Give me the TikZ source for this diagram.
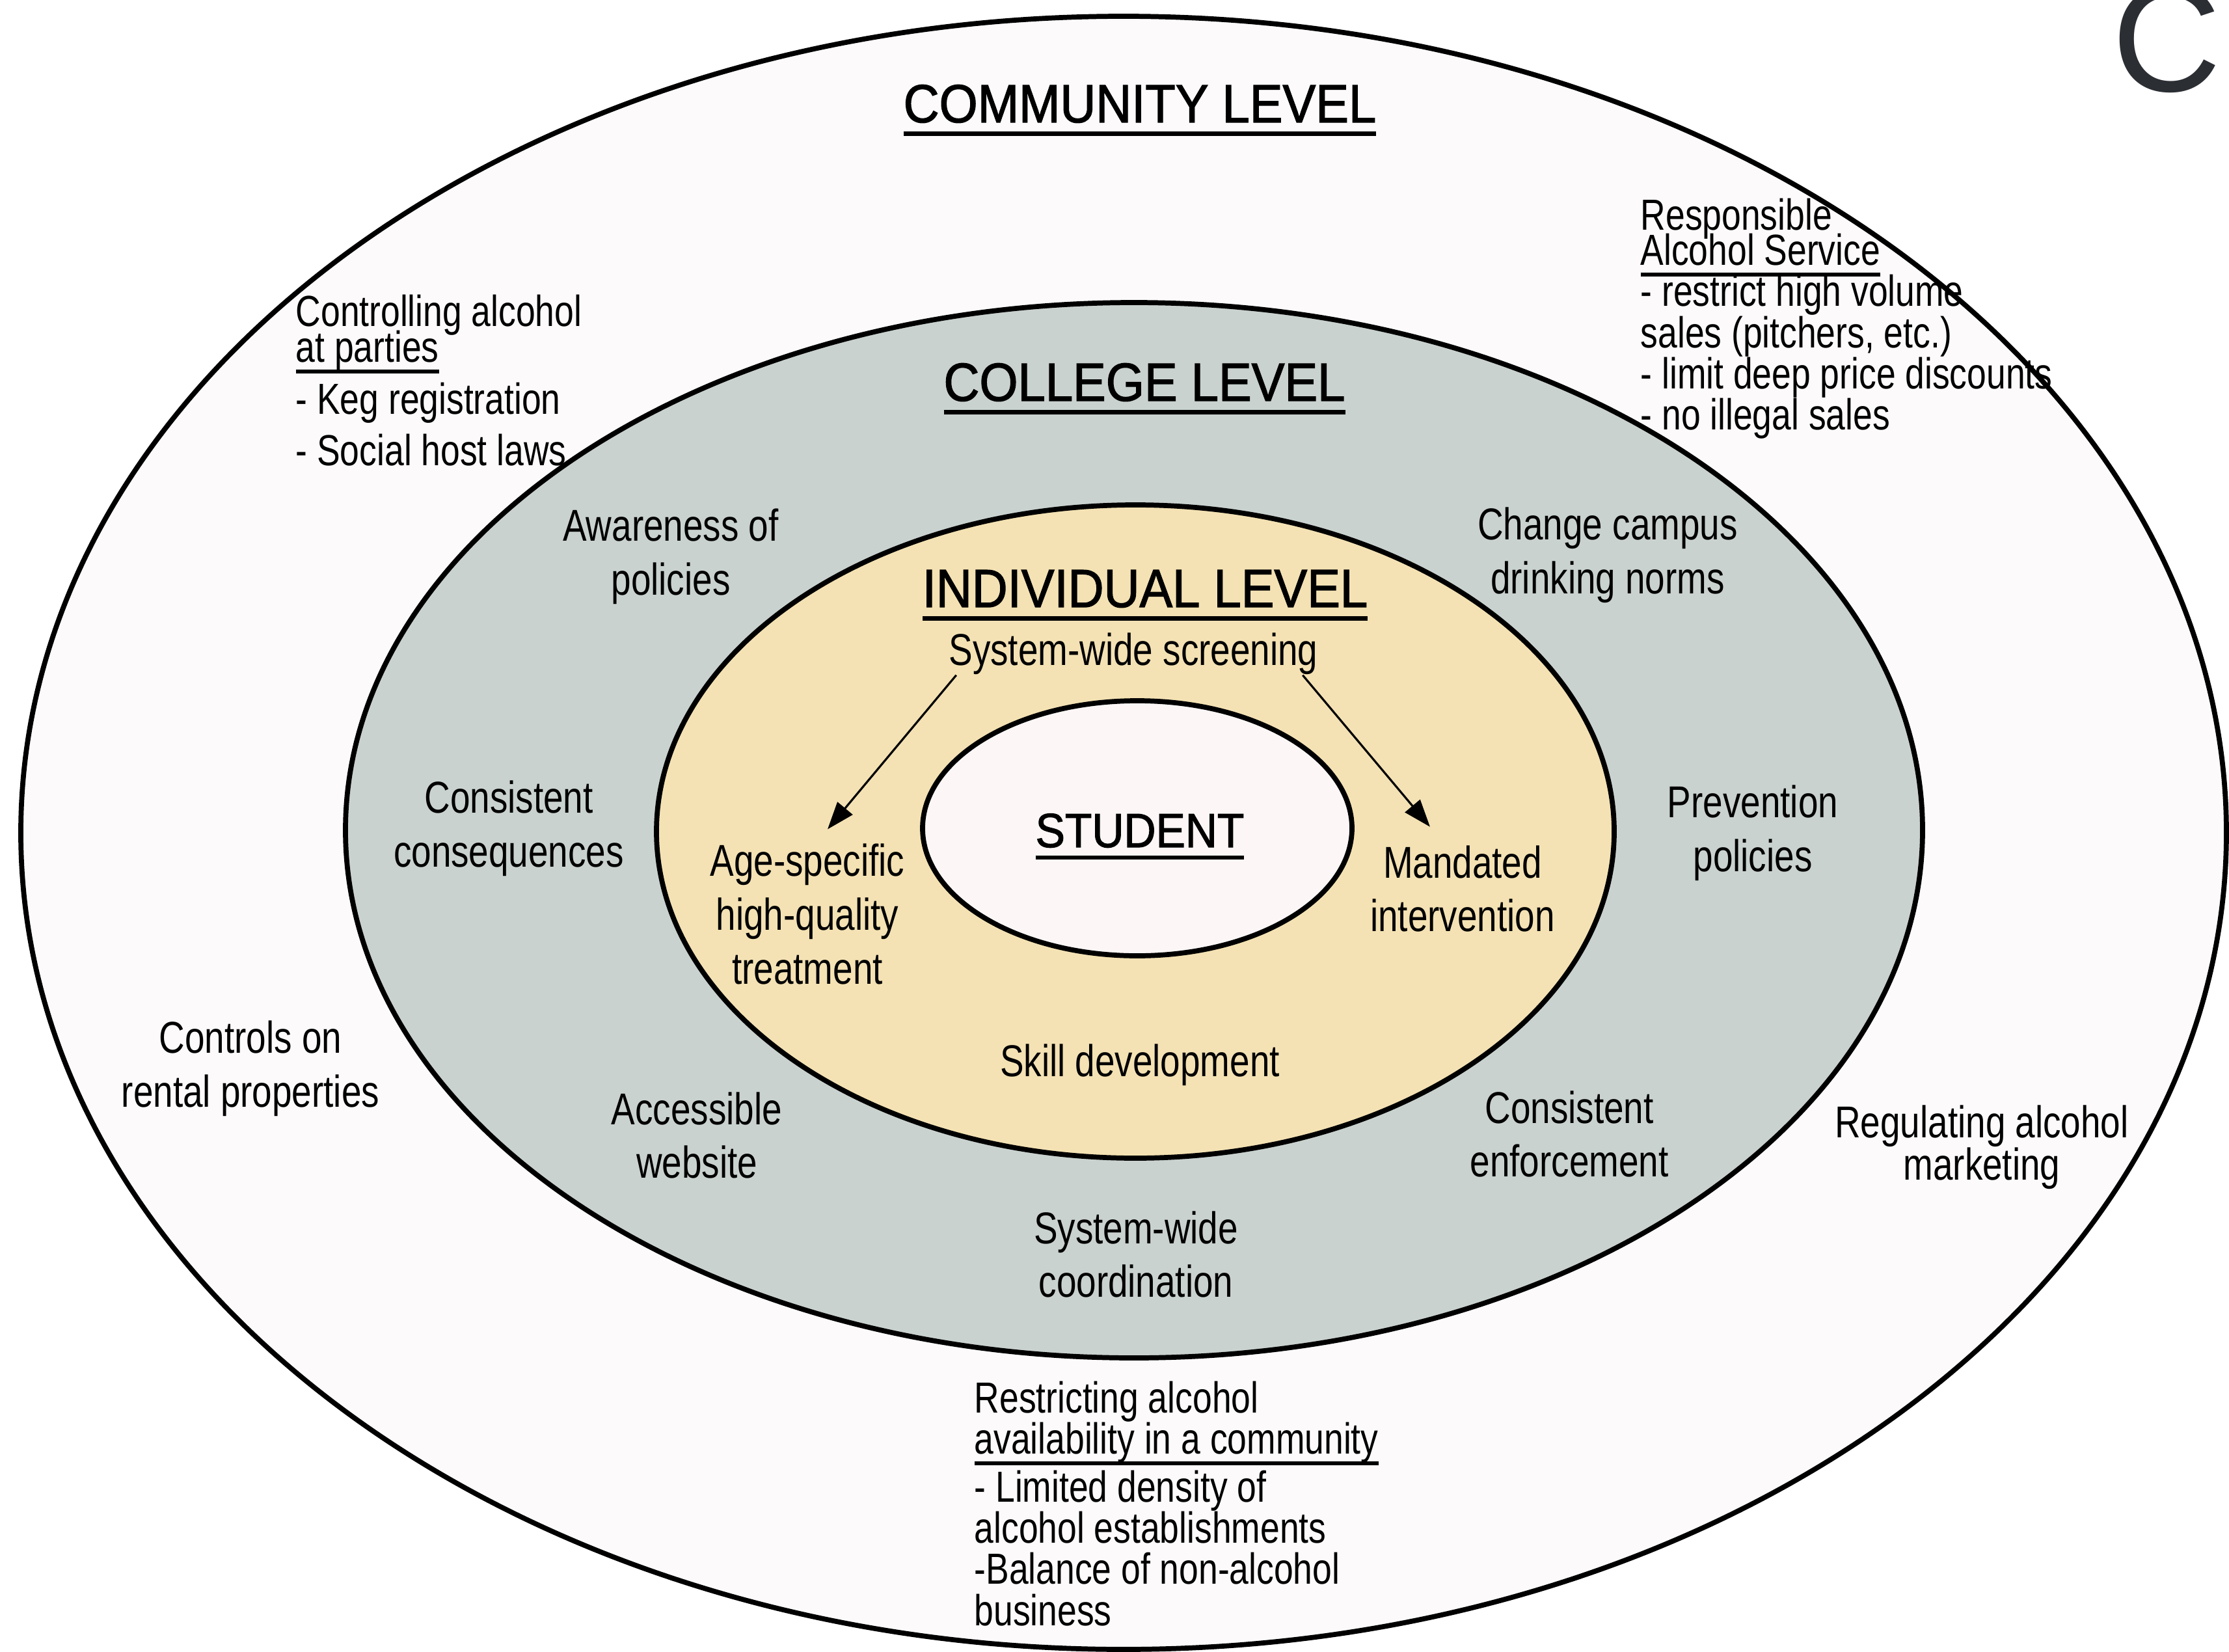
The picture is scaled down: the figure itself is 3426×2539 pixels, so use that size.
\documentclass[tikz,border=0pt]{standalone}
\usepackage{fontspec}
\setmainfont{Liberation Sans}[FakeStretch=0.8]
\newfontfamily\headfont{Liberation Sans}[FakeStretch=0.92,FakeBold=1.6]
\newfontfamily\slidefont{Liberation Sans}
\usetikzlibrary{arrows.meta}

\definecolor{commfill}{HTML}{FCFAFA}
\definecolor{collfill}{HTML}{C9D2CF}
\definecolor{indivfill}{HTML}{F4E2B4}
\definecolor{studfill}{HTML}{FCF6F6}
\definecolor{slidegray}{HTML}{2B2E33}

% underline at a fixed depth, rule scales with the font
\newcommand{\undl}[1]{\setbox0=\hbox{#1}\rlap{\rule[-0.26em]{\wd0}{0.085em}}\box0}
% keep the tight leading of the lists
\setlength{\lineskiplimit}{-100pt}

\begin{document}
\begin{tikzpicture}[x=0.01cm,y=-0.01cm,
	ring/.style={draw=black,line width=2.2pt},
	lbl/.style={inner sep=0pt,align=center,font=\fontsize{19.5}{23.5}\selectfont},
	lst/.style={inner sep=0pt,align=left,anchor=north west},
	hdr/.style={inner sep=0pt,anchor=base,font=\headfont\fontsize{23.5}{28}\selectfont},
	arr/.style={line width=0.9pt,-{Triangle[length=0.42cm,width=0.3cm]}}]

	\clip (0,0) rectangle (3426,2539);
	\fill[white] (0,0) rectangle (3426,2539);

	% the four levels, outside in
	\draw[ring,fill=commfill] (1727,1280) ellipse [x radius=1695,y radius=1255];
	\draw[ring,fill=collfill] (1743,1276) ellipse [x radius=1212,y radius=811];
	\draw[ring,fill=indivfill] (1745,1278) ellipse [x radius=736,y radius=502];
	\draw[ring,fill=studfill] (1748,1273) ellipse [x radius=330,y radius=196];

	\node[hdr] (comm) at (1752,188) {\undl{COMMUNITY LEVEL}};
	\node[hdr] (coll) at (1759,616) {\undl{COLLEGE LEVEL}};
	\node[hdr] (indiv) at (1760,933) {\undl{INDIVIDUAL LEVEL}};
	\node[hdr,font=\headfont\fontsize{21}{25}\selectfont] (stud) at (1752,1302) {\undl{STUDENT}};

	% community level
	\node[lst,font=\fontsize{19}{15.7}\selectfont] (parties) at (454,452)
		{Controlling alcohol\\ \undl{at parties}\\[7pt] - Keg registration\\[7pt] - Social host laws};
	\node[lst,font=\fontsize{19}{18}\selectfont] (service) at (2521,304)
		{Responsible\\[-2.5pt] \undl{Alcohol Service}\\ - restrict high volume\\ sales (pitchers, etc.)\\ - limit deep price discounts\\ - no illegal sales};
	\node[lst,font=\fontsize{19}{18}\selectfont] (avail) at (1497,2122)
		{Restricting alcohol\\ \undl{availability in a community}\\[3pt] - Limited density of\\ alcohol establishments\\ -Balance of non-alcohol\\ business};
	\node[lbl] (rental) at (385,1642) {Controls on\\ rental properties};
	\node[lbl] (market) at (3046,1763) {Regulating alcohol\\[-5pt] marketing};

	% college level
	\node[lbl] (aware) at (1031,855) {Awareness of\\ policies};
	\node[lbl] (norms) at (2471,853) {Change campus\\ drinking norms};
	\node[lbl] (conseq) at (782,1273) {Consistent\\ consequences};
	\node[lbl] (prev) at (2694,1280) {Prevention\\ policies};
	\node[lbl] (website) at (1071,1745) {Accessible\\ website};
	\node[lbl] (enforce) at (2412,1743) {Consistent\\ enforcement};
	\node[lbl] (coord) at (1746,1928) {System-wide\\ coordination};

	% individual level
	\node[lbl] (scr) at (1742,1005) {System-wide screening};
	\node[lbl] (age) at (1241,1405) {Age-specific\\ high-quality\\ treatment};
	\node[lbl] (mand) at (2248,1366) {Mandated\\ intervention};
	\node[lbl] (skill) at (1752,1637) {Skill development};

	\draw[arr] ([xshift=0.12cm]scr.south west) -- ([xshift=0.31cm,yshift=0.22cm]age.north);
	\draw[arr] ([xshift=-0.24cm]scr.south east) -- ([xshift=-0.5cm,yshift=0.28cm]mand.north);

	\node[anchor=base west,inner sep=0pt,text=slidegray,font=\slidefont\fontsize{66}{70}\selectfont] (slidec) at (3246,140) {C};
\end{tikzpicture}
\end{document}
